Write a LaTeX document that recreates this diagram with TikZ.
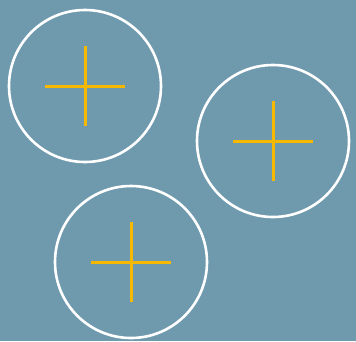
\documentclass[tikz,border=0pt]{standalone}
\usepackage{tikz}
\usetikzlibrary{calc}
\definecolor{bgblue}{RGB}{111,154,174}
\definecolor{amber}{RGB}{247,185,0}

\begin{document}
\begin{tikzpicture}[x=1pt, y=-1pt, ring/.style={shape=circle, draw=white, line width=2.6pt, minimum size=152pt, inner sep=0pt, node contents={}}, crossbar/.style={draw=amber, line width=3pt}]
            \fill[bgblue] (0,0) rectangle (356,341);
            \useasboundingbox (0,0) rectangle (356,341);
            %Rings
            \node (ringA) at (85, 86) [ring];
            \node (ringB) at (273, 141) [ring];
            \node (ringC) at (131, 262) [ring];
            %Crosses
            \foreach \r in {ringA, ringB, ringC}
            {
                \draw[crossbar] ($(\r.center)+(-40,0)$) -- ($(\r.center)+(40,0)$);
                \draw[crossbar] ($(\r.center)+(0,-40)$) -- ($(\r.center)+(0,40)$);
            }
        \end{tikzpicture}
\end{document}
